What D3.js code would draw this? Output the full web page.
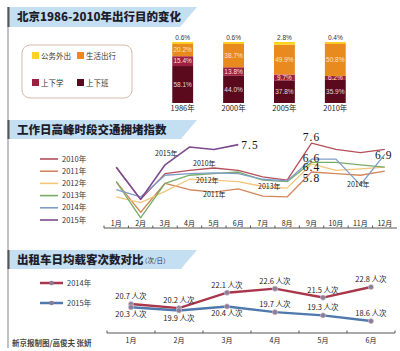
<!DOCTYPE html>
<html>
<head>
<meta charset="utf-8">
<script src="https://cdn.jsdelivr.net/npm/d3@7"></script>
<style>
    body { margin: 0; background: #fff; }
    svg { display: block; }
</style>
</head>
<body>
<div id="chart"></div>
<script>
// ---- data ----
var travelYears = ["1986年", "2000年", "2005年", "2010年"];
var travelCats = ["上下班", "上下学", "生活出行", "公务外出"];
var commuteShare = [58.1, 44.0, 37.8, 35.9];
var schoolShare = [15.4, 13.8, 9.7, 6.2];
var lifeShare = [20.2, 38.7, 49.9, 50.8];
var officialShare = [0.6, 0.6, 2.8, 0.4];

var months = ["1月", "2月", "3月", "4月", "5月", "6月", "7月", "8月", "9月", "10月", "11月", "12月"];
var indexYears = ["2010年", "2011年", "2012年", "2013年", "2014年", "2015年"];
var index2010 = [6.1, 4.1, 5.7, 5.9, 6.05, 5.9, 5.5, 5.3, 7.6, 7.2, 7.0, 7.2];
var index2011 = [5.2, 3.3, 5.1, 4.7, 4.55, 4.75, 4.3, 4.25, 5.8, 5.7, 5.6, 5.85];
var index2012 = [4.25, 3.9, 4.6, 5.35, 5.3, 5.2, 4.9, 4.8, 6.3, 5.9, 6.0, 6.1];
var index2013 = [5.2, 2.95, 5.1, 5.6, 5.7, 5.8, 5.3, 5.2, 6.4, 6.4, 6.25, 6.1];
var index2014 = [4.7, 4.25, 5.6, 5.7, 5.75, 5.7, 5.35, 5.25, 6.6, 6.6, 5.0, 6.9];
var index2015 = [6.1, 4.1, 6.25, 7.35, 7.2, 7.5];

var taxiMonths = ["1月", "2月", "3月", "4月", "5月", "6月"];
var taxi2014 = [20.7, 20.2, 22.1, 22.6, 21.5, 22.8];
var taxi2015 = [20.3, 19.9, 20.4, 19.7, 19.3, 18.6];

var width = 400;
var height = 351;
var cjk = "'Noto Sans CJK SC', 'Noto Sans', sans-serif";

var svg = d3.select("#chart")
    .append("svg")
    .attr("width", width)
    .attr("height", height);

// left rule
svg.append("line")
    .attr("x1", 8).attr("x2", 8)
    .attr("y1", 7).attr("y2", 348)
    .attr("stroke", "#9a9a9a")
    .attr("stroke-width", 1.2);

// section banners
function banner(y0, h, title, sub) {
    svg.append("polygon")
        .attr("points", [[8, y0], [197, y0], [197 - h * 0.85, y0 + h], [8, y0 + h]].join(" "))
        .attr("fill", "#c4dff2");
    svg.append("line")
        .attr("x1", 8.5).attr("x2", 8.5)
        .attr("y1", y0).attr("y2", y0 + h)
        .attr("stroke", "#555").attr("stroke-width", 2);
    svg.append("text")
        .attr("x", 17)
        .attr("y", y0 + h / 2 + 4)
        .attr("font-family", cjk)
        .attr("font-weight", 900)
        .attr("font-size", 11.5)
        .attr("fill", "#1d1d2b")
        .text(title);
    if (sub) {
        svg.append("text")
            .attr("x", 141)
            .attr("y", y0 + h / 2 + 3)
            .attr("font-family", cjk)
            .attr("font-size", 6.5)
            .attr("fill", "#333")
            .text(sub);
    }
}
banner(7, 20, "北京1986-2010年出行目的变化");
banner(120, 19, "工作日高峰时段交通拥堵指数");
banner(250, 19, "出租车日均载客次数对比", "（次/日）");

// ---- section 1: stacked bars ----
var catColors = ["#5a0a1c", "#9e1f3f", "#e98a1f", "#ffd21c"];

svg.append("rect")
    .attr("x", 22).attr("y", 45)
    .attr("width", 110).attr("height", 53)
    .attr("rx", 8)
    .attr("fill", "none")
    .attr("stroke", "#d9b9ac")
    .attr("stroke-width", 1);

var legendPos = [[77, 79], [32, 79], [77, 52], [32, 52]];
travelCats.forEach(function (c, i) {
    svg.append("rect")
        .attr("x", legendPos[i][0]).attr("y", legendPos[i][1])
        .attr("width", 7).attr("height", 7)
        .attr("fill", catColors[i]);
    svg.append("text")
        .attr("x", legendPos[i][0] + 9).attr("y", legendPos[i][1] + 6.5)
        .attr("font-family", cjk)
        .attr("font-size", 7.5)
        .attr("fill", "#333")
        .text(c);
});

var barRows = travelYears.map(function (y, i) {
    return {
        year: y,
        "上下班": commuteShare[i],
        "上下学": schoolShare[i],
        "生活出行": lifeShare[i],
        "公务外出": officialShare[i]
    };
});

var stack = d3.stack().keys(travelCats).offset(d3.stackOffsetExpand);
var series = stack(barRows);

var xBar = d3.scaleBand()
    .domain(travelYears)
    .range([157, 361])
    .paddingInner(0.59)
    .paddingOuter(0.3);

var yBar = d3.scaleLinear().domain([0, 1]).range([103, 43]);

series.forEach(function (s, si) {
    svg.append("g")
        .selectAll("rect")
        .data(s)
        .join("rect")
        .attr("x", d => xBar(d.data.year))
        .attr("y", d => yBar(d[1]))
        .attr("width", xBar.bandwidth())
        .attr("height", d => yBar(d[0]) - yBar(d[1]))
        .attr("fill", catColors[si]);

    if (si < 3) {
        svg.append("g")
            .selectAll("text")
            .data(s)
            .join("text")
            .attr("x", d => xBar(d.data.year) + xBar.bandwidth() / 2)
            .attr("y", d => (yBar(d[0]) + yBar(d[1])) / 2 + 2.3)
            .attr("text-anchor", "middle")
            .attr("font-family", "'Liberation Sans', Arial, sans-serif")
            .attr("font-size", 6.5)
            .attr("fill", si == 0 ? "#e8d6da" : "#fbe3cc")
            .text(d => d.data[travelCats[si]].toFixed(1) + "%");
    }
});

// yellow cap + top labels
svg.append("g")
    .selectAll("rect")
    .data(barRows)
    .join("rect")
    .attr("x", d => xBar(d.year))
    .attr("y", yBar(1) - 1)
    .attr("width", xBar.bandwidth())
    .attr("height", 1.6)
    .attr("fill", "#ffd21c");

svg.append("g")
    .selectAll("text")
    .data(barRows)
    .join("text")
    .attr("x", d => xBar(d.year) + xBar.bandwidth() / 2)
    .attr("y", 40)
    .attr("text-anchor", "middle")
    .attr("font-family", "'Liberation Sans', Arial, sans-serif")
    .attr("font-size", 6.5)
    .attr("fill", "#333")
    .text(d => d["公务外出"].toFixed(1) + "%");

svg.append("g")
    .selectAll("text")
    .data(travelYears)
    .join("text")
    .attr("x", d => xBar(d) + xBar.bandwidth() / 2)
    .attr("y", 111)
    .attr("text-anchor", "middle")
    .attr("font-family", cjk)
    .attr("font-size", 7.5)
    .attr("fill", "#222")
    .text(d => d);

// ---- section 2: congestion index ----
var indexSeries = [index2010, index2011, index2012, index2013, index2014, index2015];
var indexColors = ["#b4505a", "#d4875b", "#f2c67a", "#78ad68", "#7f9dc9", "#7d4a8f"];

var xIdx = d3.scaleBand().domain(months).range([104, 397]);
var yIdx = d3.scaleLinear().domain([2, 8]).range([233.2, 136.6]);

var idxLine = d3.line()
    .x((d, i) => xIdx(months[i]) + xIdx.bandwidth() / 2)
    .y(d => yIdx(d));

indexSeries.forEach(function (vals, i) {
    svg.append("path")
        .datum(vals)
        .attr("fill", "none")
        .attr("stroke", indexColors[i])
        .attr("stroke-width", i == 5 ? 1.6 : 1.3)
        .attr("stroke-linejoin", "round")
        .attr("d", idxLine);

    // legend
    var ly = 159 + i * 12.2;
    svg.append("line")
        .attr("x1", 40).attr("x2", 58)
        .attr("y1", ly).attr("y2", ly)
        .attr("stroke", indexColors[i])
        .attr("stroke-width", 1.6);
    svg.append("text")
        .attr("x", 62).attr("y", ly + 2.6)
        .attr("font-family", cjk)
        .attr("font-size", 7.5)
        .attr("fill", "#333")
        .text(indexYears[i]);
});

// month axis
svg.append("line")
    .attr("x1", xIdx.range()[0]).attr("x2", xIdx.range()[1])
    .attr("y1", 228).attr("y2", 228)
    .attr("stroke", "#555").attr("stroke-width", 1);

svg.append("g")
    .selectAll("line")
    .data(months)
    .join("line")
    .attr("x1", d => xIdx(d)).attr("x2", d => xIdx(d))
    .attr("y1", 228).attr("y2", 225.5)
    .attr("stroke", "#555");

svg.append("g")
    .selectAll("text")
    .data(months)
    .join("text")
    .attr("x", d => xIdx(d) + xIdx.bandwidth() / 2)
    .attr("y", 225.5)
    .attr("text-anchor", "middle")
    .attr("font-family", cjk)
    .attr("font-size", 7)
    .attr("fill", "#222")
    .text(d => d);

// value call-outs
var cx = m => xIdx(m) + xIdx.bandwidth() / 2;
var bigNum = [
    {t: index2015[5], x: cx("6月") + 3, y: yIdx(index2015[5]) + 4.5, a: "start"},
    {t: index2010[8], x: cx("9月"), y: yIdx(index2010[8]) - 2.5, a: "middle"},
    {t: index2014[8], x: cx("9月"), y: yIdx(index2014[8]) + 3, a: "middle"},
    {t: index2013[8], x: cx("9月"), y: yIdx(index2013[8]) + 9, a: "middle"},
    {t: index2011[8], x: cx("9月"), y: yIdx(index2011[8]) + 9.5, a: "middle"},
    {t: index2014[11], x: cx("12月") - 1, y: yIdx(index2014[11]) + 5, a: "middle"}
];
svg.append("g")
    .selectAll("text")
    .data(bigNum)
    .join("text")
    .attr("x", d => d.x)
    .attr("y", d => d.y)
    .attr("text-anchor", d => d.a)
    .attr("font-family", "'Liberation Serif', 'DejaVu Serif', serif")
    .attr("font-size", 11.5)
    .attr("letter-spacing", 1)
    .attr("fill", "#111")
    .text(d => d.t.toFixed(1));

var yearTags = [
    {t: "2015年", x: 155, y: 156},
    {t: "2010年", x: 193, y: 166},
    {t: "2012年", x: 196, y: 183},
    {t: "2011年", x: 203, y: 197},
    {t: "2013年", x: 258, y: 189},
    {t: "2014年", x: 347, y: 187}
];
svg.append("g")
    .selectAll("text")
    .data(yearTags)
    .join("text")
    .attr("x", d => d.x)
    .attr("y", d => d.y)
    .attr("font-family", cjk)
    .attr("font-size", 7)
    .attr("fill", "#222")
    .text(d => d.t);

// ---- section 3: taxi trips ----
var xTaxi = d3.scaleBand().domain(taxiMonths).range([107, 395]);
var yTaxi = d3.scaleLinear().domain([18, 23]).range([325.9, 285.4]);
var taxiColors = ["#a9364b", "#4f78ad"];
var taxiSeries = [taxi2014, taxi2015];

var tx = m => xTaxi(m) + xTaxi.bandwidth() / 2;

var taxiLine = d3.line()
    .x((d, i) => tx(taxiMonths[i]))
    .y(d => yTaxi(d));

// legend
["2014年", "2015年"].forEach(function (t, i) {
    var ly = 283 + i * 20;
    svg.append("line")
        .attr("x1", 40).attr("x2", 63)
        .attr("y1", ly).attr("y2", ly)
        .attr("stroke", taxiColors[i])
        .attr("stroke-width", 2.5);
    svg.append("circle")
        .attr("cx", 51.5).attr("cy", ly).attr("r", 2.3)
        .attr("fill", "#8c7c96");
    svg.append("text")
        .attr("x", 67).attr("y", ly + 2.6)
        .attr("font-family", cjk)
        .attr("font-size", 7.5)
        .attr("fill", "#333")
        .text(t);
});

[1, 0].forEach(function (i) {
    svg.append("path")
        .datum(taxiSeries[i])
        .attr("fill", "none")
        .attr("stroke", taxiColors[i])
        .attr("stroke-width", 2.4)
        .attr("d", taxiLine);
});

taxiSeries.forEach(function (vals, i) {
    svg.append("g")
        .selectAll("circle")
        .data(vals)
        .join("circle")
        .attr("cx", (d, j) => tx(taxiMonths[j]))
        .attr("cy", d => yTaxi(d))
        .attr("r", 2.6)
        .attr("fill", "#8c7c96")
        .attr("stroke", "#d6cbd9")
        .attr("stroke-width", 0.6);
});

// labels: 2014 above, 2015 below for first three months, above afterwards
svg.append("g")
    .selectAll("text")
    .data(taxi2014)
    .join("text")
    .attr("x", (d, j) => tx(taxiMonths[j]))
    .attr("y", d => yTaxi(d) - 5)
    .attr("text-anchor", "middle")
    .attr("font-family", cjk)
    .attr("font-size", 7.5)
    .attr("fill", "#222")
    .text(d => d.toFixed(1) + " 人次");

svg.append("g")
    .selectAll("text")
    .data(taxi2015)
    .join("text")
    .attr("x", (d, j) => tx(taxiMonths[j]))
    .attr("y", (d, j) => j < 3 ? yTaxi(d) + 10 : yTaxi(d) - 5)
    .attr("text-anchor", "middle")
    .attr("font-family", cjk)
    .attr("font-size", 7.5)
    .attr("fill", "#222")
    .text(d => d.toFixed(1) + " 人次");

svg.append("line")
    .attr("x1", xTaxi.range()[0]).attr("x2", xTaxi.range()[1])
    .attr("y1", 333).attr("y2", 333)
    .attr("stroke", "#555").attr("stroke-width", 1);

svg.append("g")
    .selectAll("line")
    .data(taxiMonths.concat(["end"]))
    .join("line")
    .attr("x1", (d, j) => xTaxi.range()[0] + j * xTaxi.step())
    .attr("x2", (d, j) => xTaxi.range()[0] + j * xTaxi.step())
    .attr("y1", 333).attr("y2", 330.5)
    .attr("stroke", "#555");

svg.append("g")
    .selectAll("text")
    .data(taxiMonths)
    .join("text")
    .attr("x", d => tx(d))
    .attr("y", 343)
    .attr("text-anchor", "middle")
    .attr("font-family", cjk)
    .attr("font-size", 7)
    .attr("fill", "#222")
    .text(d => d);

svg.append("text")
    .attr("x", 12).attr("y", 346)
    .attr("font-family", cjk)
    .attr("font-size", 7.5)
    .attr("font-weight", 700)
    .attr("fill", "#444")
    .text("新京报制图/高俊夫 张妍");
</script>
</body>
</html>
